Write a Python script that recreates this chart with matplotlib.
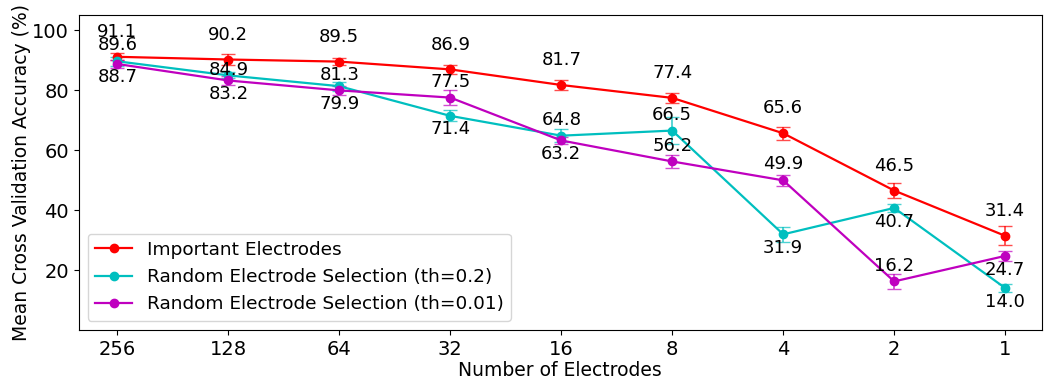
import matplotlib
matplotlib.use('Agg')
import matplotlib.pyplot as plt
from matplotlib.lines import Line2D

n_electrodes = ['256', '128', '64', '32', '16', '8', '4', '2', '1']

important = [91.1, 90.2, 89.5, 86.9, 81.7, 77.4, 65.6, 46.5, 31.4]
important_err = [1.2, 2.0, 1.3, 1.5, 1.7, 1.7, 2.2, 2.5, 3.2]

random_02 = [89.6, 84.9, 81.3, 71.4, 64.8, 66.5, 31.9, 40.7, 14.0]
random_02_err = [1.5, 1.0, 1.5, 1.8, 2.1, 4.5, 2.5, 1.4, 1.3]

random_001 = [88.7, 83.2, 79.9, 77.5, 63.2, 56.2, 49.9, 16.2, 24.7]
random_001_err = [1.5, 1.5, 1.5, 2.5, 1.3, 2.2, 1.9, 2.4, 1.7]

# label offsets (data units) for the annotations
off_important = [8.3] * 9
off_02 = [5.3, 1.7, 3.7, -4.5, 5.3, 5.3, -4.5, -4.6, -4.6]
off_001 = [-4.5, -4.5, -4.5, 5.3, -4.5, 5.3, 5.5, 5.3, -4.6]

fig, ax = plt.subplots(figsize=(10.47, 3.78), dpi=100)
x = list(range(len(n_electrodes)))

series = [
    (important, important_err, off_important, 'r', 'Important Electrodes'),
    (random_02, random_02_err, off_02, 'c', 'Random Electrode Selection (th=0.2)'),
    (random_001, random_001_err, off_001, 'm', 'Random Electrode Selection (th=0.01)'),
]

handles = []
for vals, errs, offs, col, lab in series:
    cont = ax.errorbar(x, vals, yerr=errs, color=col, marker='o', markersize=6,
                       linewidth=1.6, capsize=5, elinewidth=1.3)
    for part in cont[1] + cont[2]:
        part.set_alpha(0.7)
    handles.append(Line2D([], [], color=col, marker='o', markersize=6,
                          linewidth=1.6, label=lab))
    for xi, v, o in zip(x, vals, offs):
        ax.text(xi, v + o, f'{v:.1f}', ha='center', va='center', fontsize=13)

ax.set_xticks(x)
ax.set_xticklabels(n_electrodes, fontsize=14)
ax.tick_params(axis='y', labelsize=14)
ax.set_xlim(-0.35, 8.33)
ax.set_ylim(0, 105)
ax.set_yticks([20, 40, 60, 80, 100])
ax.set_xlabel('Number of Electrodes', fontsize=13.5, labelpad=2)
ax.set_ylabel('Mean Cross Validation Accuracy (%)', fontsize=13.5, labelpad=1)
ax.legend(handles=handles, loc='lower left', fontsize=13.3,
          borderaxespad=0.5, handlelength=2.0)

plt.subplots_adjust(left=0.075, right=0.995, top=0.96, bottom=0.127)
plt.savefig('out.png')
